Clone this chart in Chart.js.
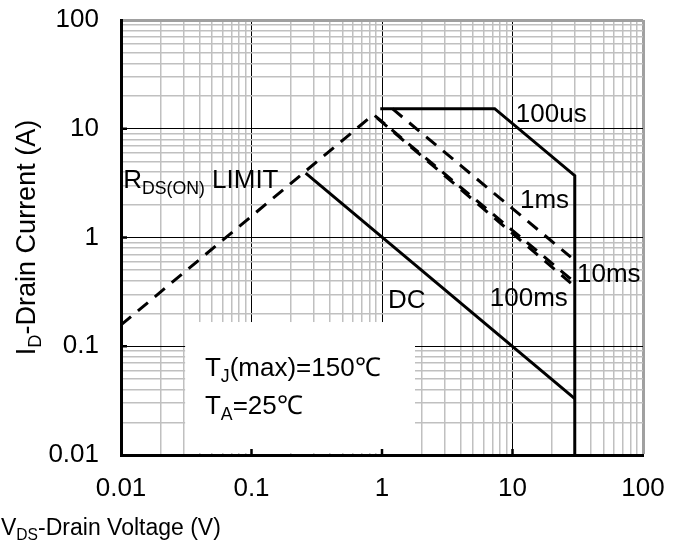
<!DOCTYPE html>
<html>
<head>
<meta charset="utf-8">
<script src="https://cdn.jsdelivr.net/npm/chart.js@4/dist/chart.umd.min.js"></script>
<style>
  html, body { margin: 0; padding: 0; background: #fff; }
  canvas { display: block; }
</style>
</head>
<body>
<canvas id="soa" width="684" height="546"></canvas>
<script>
// Safe operating area
const decades = [0.01, 0.1, 1, 10, 100];
const decadeLabels = ['0.01', '0.1', '1', '10', '100'];
const gridSteps = [1, 2, 3, 4, 5, 6, 7, 8, 9];

const rdsV = [0.01, 0.86];
const rdsI = [0.157, 13.5];
const us100V = [0.97, 7.3, 30, 30];
const us100I = [15.3, 15.3, 3.7, 0.01];
const ms1V = [1.2, 28];
const ms1I = [15.3, 0.66];
const ms10V = [0.88, 28];
const ms10I = [13.2, 0.415];
const ms100V = [0.92, 28];
const ms100I = [12.5, 0.38];
const dcV = [0.26, 30];
const dcI = [3.9, 0.033];

const FONT = "'Liberation Sans', Arial, sans-serif";

// pont lista építése
function pts(xs, ys) {
    return xs.map((x, i) => ({ x: x, y: ys[i] }));
}

function gridTicks() {
    const out = [];
    decades.forEach((d, di) => {
        gridSteps.forEach(k => {
            if (di === decades.length - 1 && k > 1) return;
            out.push({ value: d * k, major: k === 1, label: k === 1 ? decadeLabels[di] : '' });
        });
    });
    return out;
}

function gridColor(c) {
    const t = c.tick;
    if (!t) return '#c0c0c0';
    if (t.value >= 99) return '#a0a0a0';
    return t.major ? '#000' : '#c0c0c0';
}
function gridWidth(c) {
    const t = c.tick;
    if (!t) return 1;
    if (t.value >= 99) return 3;
    return t.major ? 1 : 1.5;
}

// szöveg alsó indexszel
function drawRich(ctx, parts, x, y, size, rotate) {
    ctx.save();
    ctx.translate(x, y);
    if (rotate) ctx.rotate(-Math.PI / 2);
    let total = 0;
    parts.forEach(p => {
        ctx.font = (p[1] ? size * 0.68 : size) + 'px ' + FONT;
        total += ctx.measureText(p[0]).width;
    });
    let cx = rotate ? -total / 2 : 0;
    ctx.fillStyle = '#000';
    ctx.textBaseline = 'alphabetic';
    ctx.textAlign = 'left';
    parts.forEach(p => {
        ctx.font = (p[1] ? size * 0.68 : size) + 'px ' + FONT;
        ctx.fillText(p[0], cx, p[1] ? size * 0.22 : 0);
        cx += ctx.measureText(p[0]).width;
    });
    ctx.restore();
}

const notes = [
    { x: 10.6, y: 11.5, parts: [['100us']] },
    { x: 11.4, y: 1.87, parts: [['1ms']] },
    { x: 31.2, y: 0.39, parts: [['10ms']] },
    { x: 6.7, y: 0.234, parts: [['100ms']] },
    { x: 1.11, y: 0.225, parts: [['DC']] },
    { x: 0.0104, y: 2.85, parts: [['R'], ['DS(ON)', true], [' LIMIT']] },
    { x: 0.044, y: 0.0532, parts: [['T'], ['J', true], ['(max)=150℃']] },
    { x: 0.044, y: 0.0238, parts: [['T'], ['A', true], ['=25℃']] }
];

const soaPlugin = {
    id: 'soaPlugin',
    beforeDatasetsDraw(chart) {
        const ctx = chart.ctx;
        const xs = chart.scales.x, ys = chart.scales.y;
        // fehér doboz a feltételeknek
        const l = xs.getPixelForValue(0.031), r = xs.getPixelForValue(1.79);
        const t = ys.getPixelForValue(0.167), b = ys.getPixelForValue(0.01);
        ctx.save();
        ctx.fillStyle = '#fff';
        ctx.fillRect(l, t, r - l, b - t - 2);
        ctx.restore();
    },
    afterDraw(chart) {
        const ctx = chart.ctx;
        const xs = chart.scales.x, ys = chart.scales.y;
        const a = chart.chartArea;
        ctx.save();
        ctx.strokeStyle = '#000';
        ctx.lineWidth = 2.5;
        decades.slice(1, 4).forEach(v => {
            const py = ys.getPixelForValue(v);
            ctx.beginPath(); ctx.moveTo(a.left, py); ctx.lineTo(a.left + 6, py); ctx.stroke();
            const px = xs.getPixelForValue(v);
            ctx.beginPath(); ctx.moveTo(px, a.bottom); ctx.lineTo(px, a.bottom - 6); ctx.stroke();
        });
        ctx.restore();

        notes.forEach(n => {
            drawRich(ctx, n.parts, xs.getPixelForValue(n.x), ys.getPixelForValue(n.y), 26, false);
        });
        drawRich(ctx, [['I'], ['D', true], ['-Drain Current (A)']], 35, (a.top + a.bottom) / 2, 27, true);
        drawRich(ctx, [['V'], ['DS', true], ['-Drain Voltage (V)']], 1, 535, 23, false);
    }
};

const lineStyle = { borderColor: '#000', borderWidth: 3, pointRadius: 0, showLine: true, fill: false };
const dashed = [13, 9];

new Chart(document.getElementById('soa'), {
    type: 'scatter',
    data: {
        datasets: [
            Object.assign({ label: 'RDS(ON) LIMIT', data: pts(rdsV, rdsI), borderDash: dashed }, lineStyle),
            Object.assign({ label: '100us', data: pts(us100V, us100I) }, lineStyle),
            Object.assign({ label: '1ms', data: pts(ms1V, ms1I), borderDash: dashed }, lineStyle),
            Object.assign({ label: '10ms', data: pts(ms10V, ms10I), borderDash: dashed }, lineStyle),
            Object.assign({ label: '100ms', data: pts(ms100V, ms100I), borderDash: dashed }, lineStyle),
            Object.assign({ label: 'DC', data: pts(dcV, dcI) }, lineStyle)
        ]
    },
    options: {
        responsive: false,
        animation: false,
        devicePixelRatio: 1,
        layout: { padding: { left: 0, top: 20, right: 41, bottom: 0 } },
        plugins: { legend: { display: false }, tooltip: { enabled: false } },
        scales: {
            x: {
                type: 'logarithmic',
                min: 0.01, max: 100,
                afterBuildTicks: s => { s.ticks = gridTicks(); },
                afterFit: s => { s.height = 91; s.paddingLeft = 0; s.paddingRight = 0; },
                ticks: {
                    autoSkip: false, maxRotation: 0, padding: 18,
                    color: '#000', font: { family: FONT, size: 26 },
                    callback: (v, i, ticks) => ticks[i].label
                },
                grid: { color: gridColor, lineWidth: gridWidth, drawTicks: false },
                border: { color: '#000', width: 3 }
            },
            y: {
                type: 'logarithmic',
                min: 0.01, max: 100,
                afterBuildTicks: s => { s.ticks = gridTicks(); },
                afterFit: s => { s.width = 121; s.paddingTop = 0; s.paddingBottom = 0; },
                ticks: {
                    autoSkip: false, padding: 22,
                    color: '#000', font: { family: FONT, size: 26 },
                    callback: (v, i, ticks) => ticks[i].label
                },
                grid: { color: gridColor, lineWidth: gridWidth, drawTicks: false },
                border: { color: '#000', width: 3 }
            }
        }
    },
    plugins: [soaPlugin]
});
</script>
</body>
</html>
